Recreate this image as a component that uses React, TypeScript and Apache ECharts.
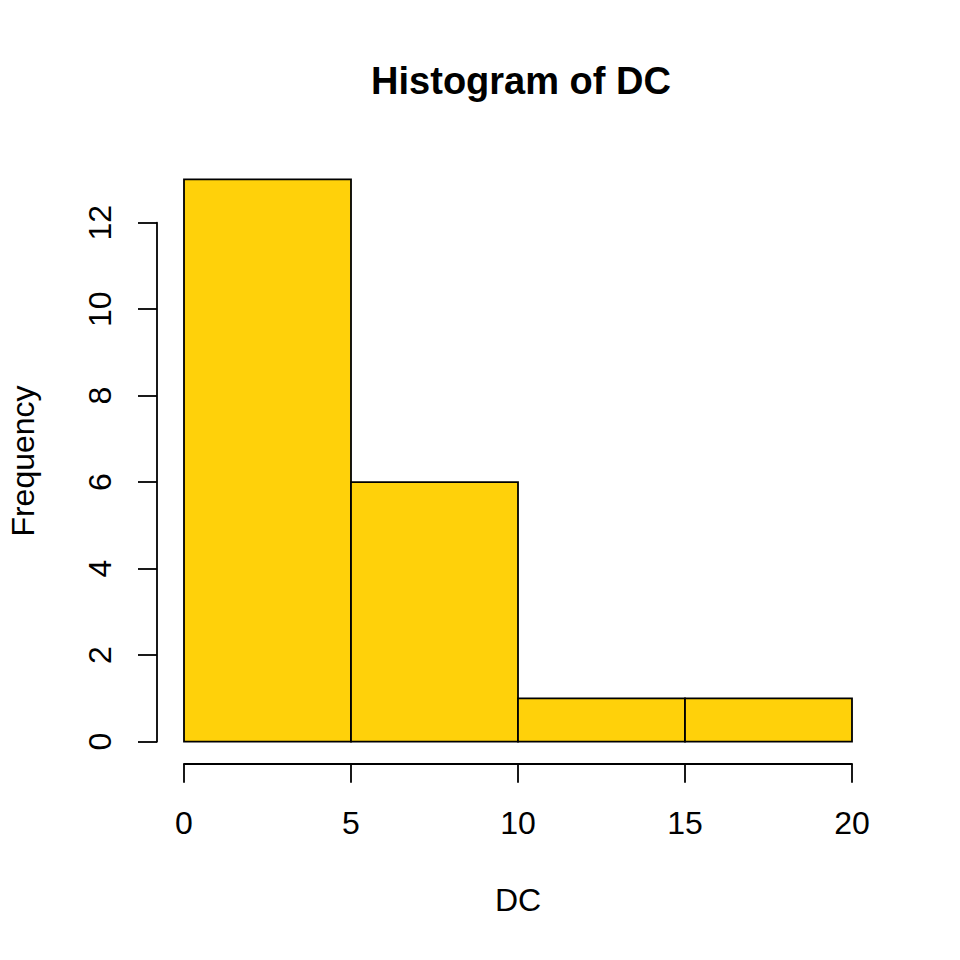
import React, { useEffect, useRef } from "react";
import * as echarts from "echarts";

// histogram data: bin edges and counts per bin
const breaks = [0, 5, 10, 15, 20];
const counts = [13, 6, 1, 1];
const yTicks = [0, 2, 4, 6, 8, 10, 12];

const FONT = "'Liberation Sans', Arial, Helvetica, sans-serif";
const BAR_COLOR = "#FFD10A";

const App: React.FC = () => {
  const chartRef = useRef<HTMLDivElement>(null);

  useEffect(() => {
    const chart = echarts.init(chartRef.current, undefined, { renderer: "svg" });

    const bins = counts.map((c, i) => [breaks[i], breaks[i + 1], c]);

    const option: echarts.EChartsOption = {
      animation: false,
      backgroundColor: "#ffffff",
      title: {
        text: "Histogram of DC",
        left: 516,
        top: 57,
        textAlign: "center",
        textStyle: { fontFamily: FONT, fontSize: 38, fontWeight: "bold", color: "#000" },
      },
      grid: { left: 184, right: 108, top: 222.7, bottom: 218.3 },
      xAxis: {
        type: "value",
        min: breaks[0],
        max: breaks[breaks.length - 1],
        interval: 5,
        offset: 22,
        axisLine: { show: true, onZero: false, lineStyle: { color: "#000", width: 1.8 } },
        axisTick: { show: true, length: 19, lineStyle: { color: "#000", width: 1.8 } },
        axisLabel: { fontFamily: FONT, fontSize: 32, color: "#000", margin: 43 },
        splitLine: { show: false },
      },
      yAxis: {
        type: "value",
        min: yTicks[0],
        max: yTicks[yTicks.length - 1],
        interval: 2,
        offset: 27,
        axisLine: { show: true, onZero: false, lineStyle: { color: "#000", width: 1.8 } },
        axisTick: { show: true, length: 19, lineStyle: { color: "#000", width: 1.8 } },
        axisLabel: { fontFamily: FONT, fontSize: 32, color: "#000", margin: 41, rotate: 90 },
        splitLine: { show: false },
      },
      graphic: [
        {
          type: "text",
          x: 518,
          y: 900,
          style: {
            text: "DC",
            font: `32px ${FONT}`,
            fill: "#000",
            align: "center",
            verticalAlign: "middle",
          },
        },
        {
          type: "text",
          x: 23,
          y: 461,
          rotation: Math.PI / 2,
          style: {
            text: "Frequency",
            font: `32px ${FONT}`,
            fill: "#000",
            align: "center",
            verticalAlign: "middle",
          },
        },
      ],
      series: [
        {
          type: "custom",
          clip: false,
          data: bins,
          encode: { x: [0, 1], y: 2 },
          renderItem: (params: any, api: any) => {
            const p0 = api.coord([api.value(0), api.value(2)]);
            const p1 = api.coord([api.value(1), 0]);
            return {
              type: "rect",
              shape: { x: p0[0], y: p0[1], width: p1[0] - p0[0], height: p1[1] - p0[1] },
              style: { fill: BAR_COLOR, stroke: "#000", lineWidth: 1.8 },
            };
          },
        },
      ],
    };

    chart.setOption(option);
    return () => {
      chart.dispose();
    };
  }, []);

  return (
    <div
      ref={chartRef}
      style={{ position: "fixed", left: 0, top: 0, width: 960, height: 960 }}
    />
  );
};

export default App;
